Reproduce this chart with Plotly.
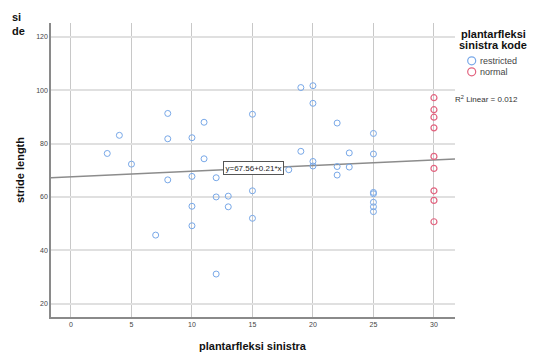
import plotly.graph_objects as go

# ---- data ----
restricted_x = [3, 4, 5, 7, 8, 8, 8, 10, 10, 10, 10, 11, 11, 12, 12, 12, 13, 13, 15, 15, 15,
                18, 19, 19, 20, 20, 20, 20, 22, 22, 22, 23, 23, 25, 25, 25, 25, 25, 25, 25]
restricted_y = [76.3, 83.1, 72.3, 45.7, 91.3, 81.8, 66.4, 82.2, 67.7, 56.5, 49.2, 88.0, 74.3,
                67.2, 60.0, 31.1, 60.3, 56.3, 91.0, 62.3, 52.0,
                70.2, 101.0, 77.1, 101.7, 95.1, 73.3, 71.6, 87.7, 71.4, 68.2, 76.5, 71.2,
                83.8, 76.1, 61.7, 61.2, 58.0, 56.3, 54.5]
normal_x = [30, 30, 30, 30, 30, 30, 30, 30, 30]
normal_y = [97.2, 92.7, 89.9, 85.9, 75.2, 70.7, 62.3, 58.7, 50.7]

fit_intercept = 67.56
fit_slope = 0.21
r2_linear = 0.012

x_ticks = [0, 5, 10, 15, 20, 25, 30]
y_ticks = [20, 40, 60, 80, 100, 120]
x_range = [-1.65, 31.74]
y_range = [15, 125.2]

BLUE = "#78a8e8"
RED = "#e2637f"
FONT = "Liberation Sans, Arial, sans-serif"

fig = go.Figure()

line_x = [x_range[0], x_range[1]]
line_y = [fit_intercept + fit_slope * v for v in line_x]
fig.add_trace(go.Scatter(x=line_x, y=line_y, mode="lines",
                         line=dict(color="#8c8c8c", width=1.6), hoverinfo="skip"))

fig.add_trace(go.Scatter(x=restricted_x, y=restricted_y, mode="markers", name="restricted",
                         marker=dict(symbol="circle-open", size=6, color=BLUE,
                                     line=dict(width=1.0, color=BLUE))))
fig.add_trace(go.Scatter(x=normal_x, y=normal_y, mode="markers", name="normal",
                         marker=dict(symbol="circle-open", size=6, color=RED,
                                     line=dict(width=1.2, color=RED))))

# plot area in pixels: x 51..455, y 22.7..316.7
L, R, T, B = 51, 455, 22.7, 316.7
W, H = R - L, B - T


def px(x):
    return (x - L) / W


def py(y):
    return (B - y) / H


annotations = [
    # equation label
    dict(x=15.07, y=70.8, xref="x", yref="y", text="y=67.56+0.21*x", showarrow=False,
         font=dict(family=FONT, size=8, color="#222"), bgcolor="white",
         bordercolor="#555", borderwidth=1, borderpad=1.5),
    # R2 label
    dict(x=px(453), y=py(98.7), xref="paper", yref="paper", xanchor="left", yanchor="middle",
         text=f"R<sup>2</sup> Linear = {r2_linear:.3f}", showarrow=False,
         font=dict(family=FONT, size=8, color="#333")),
    # legend title
    dict(x=px(493), y=py(34), xref="paper", yref="paper", xanchor="center", yanchor="middle",
         text="<b>plantarfleksi</b>", showarrow=False, font=dict(family=FONT, size=11, color="#111")),
    dict(x=px(493), y=py(44.5), xref="paper", yref="paper", xanchor="center", yanchor="middle",
         text="<b>sinistra kode</b>", showarrow=False, font=dict(family=FONT, size=11, color="#111")),
    dict(x=px(478), y=py(60.5), xref="paper", yref="paper", xanchor="left", yanchor="middle",
         text="restricted", showarrow=False, font=dict(family=FONT, size=9, color="#444")),
    dict(x=px(478), y=py(71.5), xref="paper", yref="paper", xanchor="left", yanchor="middle",
         text="normal", showarrow=False, font=dict(family=FONT, size=9, color="#444")),
    # axis titles
    dict(x=px(253), y=py(346), xref="paper", yref="paper", xanchor="center", yanchor="middle",
         text="<b>plantarfleksi sinistra</b>", showarrow=False,
         font=dict(family=FONT, size=11, color="#111")),
    dict(x=px(20), y=py(169.7), xref="paper", yref="paper", xanchor="center", yanchor="middle",
         text="<b>stride length</b>", textangle=-90, showarrow=False,
         font=dict(family=FONT, size=11, color="#111")),
    # clipped title fragments visible at top-left
    dict(x=px(23), y=py(16.5), xref="paper", yref="paper", xanchor="right", yanchor="middle",
         text="<b>si</b>", showarrow=False, font=dict(family=FONT, size=11, color="#111")),
    dict(x=px(27), y=py(30.5), xref="paper", yref="paper", xanchor="right", yanchor="middle",
         text="<b>de</b>", showarrow=False, font=dict(family=FONT, size=11, color="#111")),
]

shapes = []
for yy, c in [(60.5, BLUE), (71.5, RED)]:
    shapes.append(dict(type="circle", xref="paper", yref="paper", xsizemode="pixel",
                       ysizemode="pixel", xanchor=px(471.7), yanchor=py(yy),
                       x0=-4, x1=4, y0=-4, y1=4, line=dict(color=c, width=1.2)))

fig.update_layout(
    width=535, height=358,
    margin=dict(l=L, r=535 - R, t=T, b=358 - B),
    paper_bgcolor="white", plot_bgcolor="white",
    showlegend=False,
    annotations=annotations,
    shapes=shapes,
    font=dict(family=FONT),
)
fig.update_xaxes(range=x_range, tickvals=x_ticks, showgrid=True, gridcolor="#c8c8c8", gridwidth=1,
                 zeroline=False, showline=True, linecolor="#8a8a8a", linewidth=1.5,
                 ticks="", tickfont=dict(family=FONT, size=7, color="#444"))
fig.update_yaxes(range=y_range, tickvals=y_ticks, showgrid=True, gridcolor="#e0e0e0", gridwidth=2,
                 zeroline=False, showline=True, linecolor="#8a8a8a", linewidth=1.5,
                 ticks="", tickfont=dict(family=FONT, size=7, color="#444"))

fig.write_html("out.html", config={"displayModeBar": False},
               post_script="document.body.style.margin='0';document.body.style.overflow='hidden';")
